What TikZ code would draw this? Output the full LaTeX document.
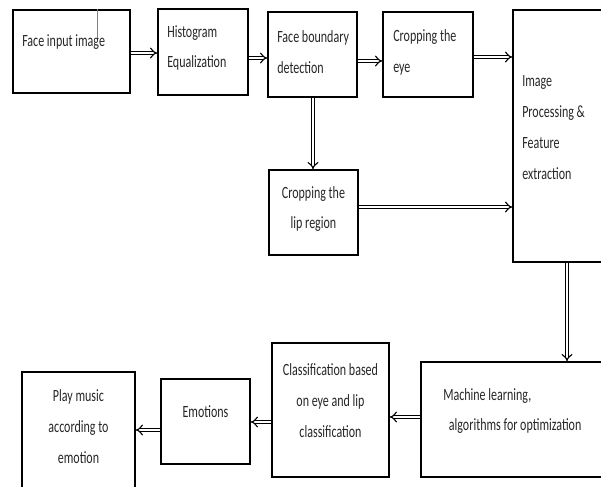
\documentclass[tikz,border=0pt]{standalone}
\usepackage{fontspec}
\setmainfont{Carlito}[FakeStretch=0.7]
\usetikzlibrary{arrows.meta}

\tikzset{
	blk/.style={draw, line width=0.9pt, inner sep=0pt},
	box/.style 2 args={blk, minimum width=#1*0.025cm, minimum height=#2*0.025cm},
	txt/.style={inner sep=0pt, align=left, text=black!85, font=\fontsize{12.2}{22}\selectfont},
	arr/.style={draw, line width=0.8pt, double=white, double distance=1.8pt, -{Implies}},
}

\begin{document}
\begin{tikzpicture}[x=0.025cm, y=-0.025cm]
	\useasboundingbox (0,0) rectangle (601,487);
	\clip (0,0) rectangle (601,487);
	% blocks
	\node[box={117}{83}] (face) at (71.5,51.5) {};
	\node[box={90}{86}] (hist) at (203,52) {};
	\node[box={89}{85}] (bound) at (312.5,54.5) {};
	\node[box={90}{85}] (eye) at (428,54.5) {};
	\node[box={107}{252}] (feat) at (566.5,136) {};
	\node[box={89}{85}] (lip) at (313.5,212.5) {};
	\node[box={219}{115}] (ml) at (530.5,419.5) {};
	\node[box={117}{134}] (clsf) at (330.5,410) {};
	\node[box={89}{85}] (emo) at (205.5,421.5) {};
	\node[box={113}{140}] (play) at (78.5,442) {};
	\draw[gray, line width=0.4pt] (face.north -| 97,0) -- (97,40);
	% texts
	\node[txt, anchor=west] (face-t) at (22,42) {Face input image};
	\node[txt, anchor=west] (hist-t) at (167,48) {Histogram\\Equalization};
	\node[txt, anchor=west] (bound-t) at (277,52) {Face boundary\\detection};
	\node[txt, anchor=west] (eye-t) at (393,52) {Cropping the\\eye};
	\node[txt, anchor=west] (feat-t) at (522,127.5) {Image\\Processing \&\\Feature\\extraction};
	\node[txt, align=center] (lip-t) at (313.5,209) {Cropping the\\lip region};
	\node[txt, anchor=west] (ml-t) at (443,411) {Machine learning,\\\hspace*{4pt}algorithms for optimization};
	\node[txt, align=center] (clsf-t) at (330.5,401) {Classification based\\on eye and lip\\classification};
	\node[txt, align=center] (emo-t) at (205.5,412) {Emotions};
	\node[txt, align=center] (play-t) at (78.5,427) {Play music\\according to\\emotion};
	% arrows
	\foreach \a/\b/\y in {face/hist/53, hist/bound/58, bound/eye/61, eye/feat/57, lip/feat/207}
		\draw[arr] (\a.east |- 0,\y) -- (\b.west |- 0,\y);
	\foreach \a/\b/\y in {ml/clsf/417, clsf/emo/422, emo/play/430}
		\draw[arr] (\a.west |- 0,\y) -- (\b.east |- 0,\y);
	\draw[arr] (bound.south -| 313,0) -- (lip.north -| 313,0);
	\draw[arr] (feat.south -| 567,0) -- (ml.north -| 567,0);
\end{tikzpicture}
\end{document}
